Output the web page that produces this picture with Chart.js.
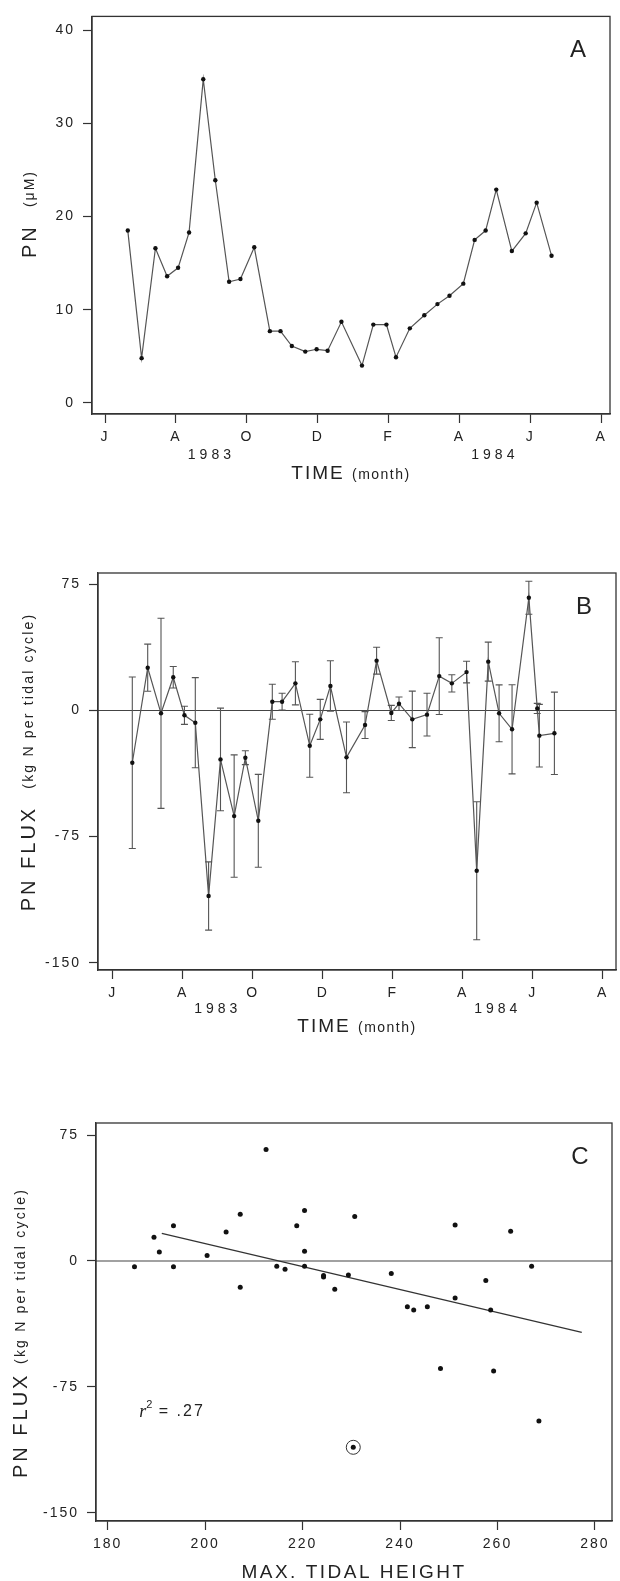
<!DOCTYPE html>
<html>
<head>
<meta charset="utf-8">
<script src="https://cdn.jsdelivr.net/npm/chart.js@4.4.0/dist/chart.umd.min.js"></script>
<style>
  html, body { margin: 0; padding: 0; background: #fff; }
  #wrap { position: relative; width: 620px; height: 1581px; }
  canvas { position: absolute; left: 0; }
</style>
</head>
<body>
<div id="wrap">
  <canvas id="chartA" width="620" height="500" style="top:0"></canvas>
  <canvas id="chartB" width="620" height="550" style="top:500px"></canvas>
  <canvas id="chartC" width="620" height="531" style="top:1050px"></canvas>
</div>
<script>
// month axis: 0 = June 1983, ticks every 2 months
const monthTicks = [0, 2, 4, 6, 8, 10, 12, 14];
const monthLabels = ['J', 'A', 'O', 'D', 'F', 'A', 'J', 'A'];
const yearLabels = ['1983', '1984'];
const yearPos = [3, 11];

// Panel A - PN concentration (uM)
const pnMonths = [0.64, 1.03, 1.42, 1.75, 2.06, 2.37, 2.77, 3.11, 3.50, 3.82, 4.21, 4.65, 4.95, 5.27, 5.65, 5.97, 6.28,
                  6.67, 7.25, 7.57, 7.94, 8.21, 8.60, 9.01, 9.38, 9.72, 10.11, 10.43, 10.74, 11.04, 11.48, 11.87, 12.18, 12.60];
const pnValues = [18.5, 4.8, 16.6, 13.6, 14.5, 18.3, 34.75, 23.9, 13.0, 13.3, 16.7, 7.7, 7.7, 6.1, 5.5, 5.75, 5.6,
                  8.7, 4.0, 8.4, 8.4, 4.9, 8.0, 9.4, 10.6, 11.5, 12.8, 17.5, 18.5, 22.9, 16.3, 18.2, 21.5, 15.8];
const pnTicks = [0, 10, 20, 30, 40];

// Panel B - PN flux (kg N per tidal cycle) with error bars
const fluxMonths = [0.56, 1.00, 1.38, 1.73, 2.05, 2.36, 2.74, 3.08, 3.47, 3.79, 4.16, 4.56, 4.84, 5.22, 5.63, 5.93, 6.22,
                    6.68, 7.21, 7.54, 7.96, 8.18, 8.56, 8.98, 9.33, 9.69, 10.11, 10.40, 10.73, 11.04, 11.41, 11.89, 12.13, 12.19, 12.62];
const fluxValues = [-31.1, 25.4, -1.7, 19.7, -2.9, -7.3, -110.3, -29.1, -62.8, -28.1, -65.6, 5.2, 5.2, 16.1, -21, -5.3, 14.5,
                    -27.9, -8.7, 29.6, -1.5, 4, -5.3, -2.5, 20.4, 16.1, 22.8, -95.3, 29, -1.7, -11.2, 67, 1.2, -15, -13.6];
const fluxErr = [51, 14, 56.5, 6.4, 5.4, 26.8, 20.3, 30.5, 36.4, 4.1, 27.6, 10.4, 5, 12.8, 18.7, 11.9, 15,
                 21, 8, 8, 4.5, 4, 16.8, 12.7, 22.8, 5.1, 6.4, 41, 11.6, 16.9, 26.5, 9.8, 3, 18.6, 24.5];
const fluxTicks = [-150, -75, 0, 75];

// Panel C - flux vs max tidal height
const tideHeight = [185.5, 189.5, 190.6, 193.5, 193.5, 200.4, 204.3, 207.2, 207.2, 212.5, 214.7, 216.4, 218.8, 220.4, 220.4, 220.4, 224.3, 224.3,
                    226.6, 229.4, 230.7, 230.4, 238.2, 241.5, 242.8, 245.6, 248.3, 251.3, 251.3, 257.6, 258.6, 259.2, 262.7, 267.0, 268.5];
const tideFlux = [-3.5, 14.2, 5.3, 21, -3.5, 3.3, 17.3, 27.9, -15.6, 66.4, -3.1, -4.9, 21, 30, 5.8, -3.1, -8.6, -9.5,
                  -16.8, -8.4, 26.5, -111, -7.4, -27.3, -29.2, -27.3, -64.1, 21.4, -22, -11.7, -29.2, -65.5, 17.7, -3.1, -95.3];
const tideTicks = [180, 200, 220, 240, 260, 280];
const trendX = [191.1, 277.3];
const trendY = [16.4, -42.5];
const circledX = [230.4];
const circledY = [-111];

const FONT = "'Liberation Sans', Arial, sans-serif";
const INK = '#222';

function drawParts(ctx, parts, cx, cy, angle) {
    ctx.save();
    ctx.translate(cx, cy);
    ctx.rotate(angle || 0);
    ctx.textBaseline = 'middle';
    ctx.textAlign = 'left';
    ctx.fillStyle = INK;
    let total = 0;
    parts.forEach(p => {
        ctx.font = p.font;
        ctx.letterSpacing = p.spacing || '0px';
        p.w = ctx.measureText(p.text).width;
        total += p.w;
    });
    let x = -total / 2;
    parts.forEach(p => {
        ctx.font = p.font;
        ctx.letterSpacing = p.spacing || '0px';
        ctx.fillText(p.text, x, p.dy || 0);
        x += p.w;
    });
    ctx.restore();
}

// frame, zero line, panel letter, axis titles, year labels, error bars
const decorPlugin = {
    id: 'decor',
    beforeDraw(chart) {
        chart.ctx.letterSpacing = '2px';
    },
    beforeDatasetsDraw(chart, args, opts) {
        const { ctx, chartArea: a, scales } = chart;
        if (opts.zeroLine) {
            const y = scales.y.getPixelForValue(0);
            ctx.save();
            ctx.strokeStyle = '#444';
            ctx.lineWidth = 1.1;
            ctx.beginPath();
            ctx.moveTo(a.left, y);
            ctx.lineTo(a.right, y);
            ctx.stroke();
            ctx.restore();
        }
        if (opts.errors) {
            ctx.save();
            ctx.strokeStyle = '#555';
            ctx.lineWidth = 1.1;
            opts.errors.x.forEach((xv, i) => {
                const x = scales.x.getPixelForValue(xv);
                const y1 = scales.y.getPixelForValue(opts.errors.y[i] + opts.errors.e[i]);
                const y2 = scales.y.getPixelForValue(opts.errors.y[i] - opts.errors.e[i]);
                ctx.beginPath();
                ctx.moveTo(x, y1); ctx.lineTo(x, y2);
                ctx.moveTo(x - 3.5, y1); ctx.lineTo(x + 3.5, y1);
                ctx.moveTo(x - 3.5, y2); ctx.lineTo(x + 3.5, y2);
                ctx.stroke();
            });
            ctx.restore();
        }
    },
    afterDraw(chart, args, opts) {
        const { ctx, chartArea: a, scales } = chart;
        ctx.save();
        ctx.strokeStyle = '#333';
        ctx.lineWidth = 1.3;
        ctx.strokeRect(a.left, a.top, a.right - a.left, a.bottom - a.top);
        ctx.restore();

        drawParts(ctx, [{ text: opts.letter, font: '24px ' + FONT }], a.right - 32, a.top + 34);
        if (opts.years) {
            yearLabels.forEach((t, i) => {
                drawParts(ctx, [{ text: t, font: '14px ' + FONT, spacing: '4px' }],
                    scales.x.getPixelForValue(yearPos[i]), a.bottom + opts.yearGap);
            });
        }
        drawParts(ctx, opts.xTitle, (a.left + a.right) / 2, a.bottom + opts.xTitleGap);
        drawParts(ctx, opts.yTitle, opts.yTitleX, opts.yTitleY, -Math.PI / 2);
        if (opts.note) {
            drawParts(ctx, opts.note, opts.noteX, opts.noteY);
        }
    }
};

function yAxis(min, max, ticks, width) {
    return {
        type: 'linear', min: min, max: max,
        afterBuildTicks: s => { s.ticks = ticks.map(v => ({ value: v })); },
        afterFit: s => { s.width = width; },
        grid: { drawOnChartArea: false, drawTicks: true, tickLength: 9, tickWidth: 1.2, tickColor: '#333' },
        border: { display: true, color: '#333', width: 1.3 },
        ticks: { color: INK, font: { family: FONT, size: 14 }, padding: 8 }
    };
}

function xAxis(min, max, ticks, height, labels) {
    return {
        type: 'linear', min: min, max: max,
        afterBuildTicks: s => { s.ticks = ticks.map(v => ({ value: v })); },
        afterFit: s => { s.height = height; },
        grid: { drawOnChartArea: false, drawTicks: true, tickLength: 9, tickWidth: 1.2, tickColor: '#333' },
        border: { display: true, color: '#333', width: 1.3 },
        ticks: {
            color: INK, font: { family: FONT, size: 14 }, padding: 6, autoSkip: false, maxRotation: 0,
            callback: v => labels ? labels[ticks.indexOf(v)] : v
        }
    };
}

const baseOptions = {
    responsive: false,
    animation: false,
    devicePixelRatio: 1,
    plugins: { legend: { display: false }, tooltip: { enabled: false } }
};

const timeTitle = [
    { text: 'TIME ', font: '19px ' + FONT, spacing: '2px' },
    { text: '(month)', font: '14px ' + FONT, spacing: '1.5px', dy: 1 }
];
const fluxTitle = [
    { text: 'PN FLUX  ', font: '20px ' + FONT, spacing: '3px' },
    { text: '(kg N per tidal cycle)', font: '14px ' + FONT, spacing: '2.2px' }
];

// Panel A
new Chart(document.getElementById('chartA'), {
    type: 'scatter',
    data: {
        datasets: [{
            data: pnMonths.map((m, i) => ({ x: m, y: pnValues[i] })),
            showLine: true,
            borderColor: '#555',
            borderWidth: 1.2,
            pointRadius: 2.2,
            pointBackgroundColor: '#111',
            pointBorderWidth: 0
        }]
    },
    options: Object.assign({}, baseOptions, {
        layout: { padding: { top: 15, right: 10, left: 0, bottom: 0 } },
        scales: {
            x: xAxis(-0.37, 14.25, monthTicks, 86, monthLabels),
            y: yAxis(-1.2, 41.5, pnTicks, 92)
        },
        plugins: Object.assign({}, baseOptions.plugins, {
            decor: {
                letter: 'A', years: true, yearGap: 41, xTitleGap: 60, xTitle: timeTitle,
                yTitle: [{ text: 'PN  ', font: '20px ' + FONT, spacing: '3px' }, { text: '(μM)', font: '14px ' + FONT, spacing: '2px' }],
                yTitleX: 30, yTitleY: 214
            }
        })
    }),
    plugins: [decorPlugin]
});

// Panel B
new Chart(document.getElementById('chartB'), {
    type: 'scatter',
    data: {
        datasets: [{
            data: fluxMonths.map((m, i) => ({ x: m, y: fluxValues[i] })),
            showLine: true,
            borderColor: '#555',
            borderWidth: 1.2,
            pointRadius: 2.2,
            pointBackgroundColor: '#111',
            pointBorderWidth: 0
        }]
    },
    options: Object.assign({}, baseOptions, {
        layout: { padding: { top: 73, right: 1, left: 0, bottom: 0 } },
        scales: {
            x: xAxis(-0.42, 14.38, monthTicks, 80, monthLabels),
            y: yAxis(-154.3, 81.7, fluxTicks, 98)
        },
        plugins: Object.assign({}, baseOptions.plugins, {
            decor: {
                letter: 'B', years: true, yearGap: 39, xTitleGap: 57, xTitle: timeTitle,
                yTitle: fluxTitle, yTitleX: 29, yTitleY: 262, zeroLine: true,
                errors: { x: fluxMonths, y: fluxValues, e: fluxErr }
            }
        })
    }),
    plugins: [decorPlugin]
});

// Panel C
new Chart(document.getElementById('chartC'), {
    type: 'scatter',
    data: {
        datasets: [{
            data: tideHeight.map((h, i) => ({ x: h, y: tideFlux[i] })),
            pointRadius: 2.5,
            pointBackgroundColor: '#111',
            pointBorderWidth: 0
        }, {
            type: 'line',
            data: trendX.map((h, i) => ({ x: h, y: trendY[i] })),
            borderColor: '#333',
            borderWidth: 1.2,
            pointRadius: 0
        }, {
            data: circledX.map((h, i) => ({ x: h, y: circledY[i] })),
            pointRadius: 7,
            pointBackgroundColor: 'rgba(0,0,0,0)',
            pointBorderColor: '#333',
            pointBorderWidth: 1
        }]
    },
    options: Object.assign({}, baseOptions, {
        layout: { padding: { top: 73, right: 3, left: 0, bottom: 0 } },
        scales: {
            x: xAxis(177.6, 283.5, tideTicks, 60, null),
            y: yAxis(-154.9, 82.2, fluxTicks, 96)
        },
        plugins: Object.assign({}, baseOptions.plugins, {
            decor: {
                letter: 'C', years: false, xTitleGap: 52,
                xTitle: [{ text: 'MAX. TIDAL HEIGHT', font: '19px ' + FONT, spacing: '2.5px' }],
                yTitle: [{ text: 'PN FLUX ', font: '20px ' + FONT, spacing: '3px' }, { text: '(kg N per tidal cycle)', font: '14px ' + FONT, spacing: '2.2px' }],
                yTitleX: 21, yTitleY: 283, zeroLine: true,
                note: [
                    { text: 'r', font: 'italic 18px "Liberation Serif", serif' },
                    { text: '2', font: '11px ' + FONT, dy: -7 },
                    { text: ' = .27', font: '16px ' + FONT, spacing: '2px' }
                ],
                noteX: 172, noteY: 362
            }
        })
    }),
    plugins: [decorPlugin]
});
</script>
</body>
</html>
